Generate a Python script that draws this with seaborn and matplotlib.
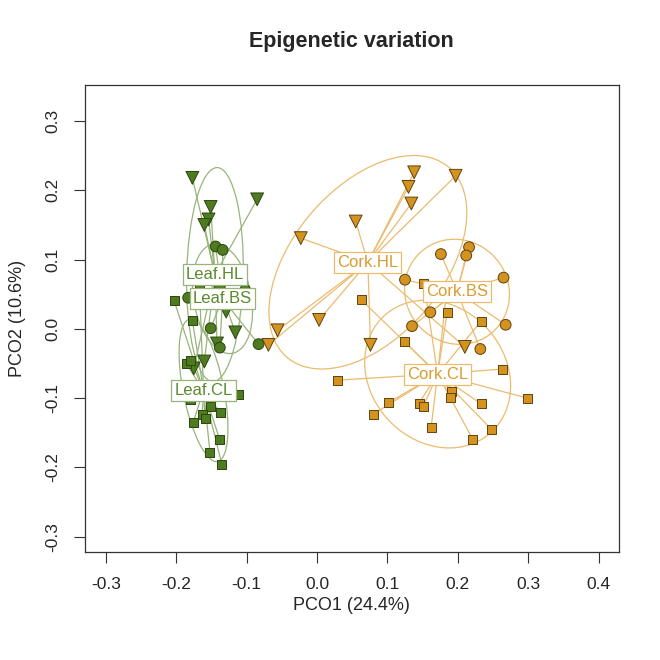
import numpy as np
import pandas as pd
import matplotlib
matplotlib.use("Agg")
import matplotlib.pyplot as plt
from matplotlib.patches import Ellipse
import seaborn as sns

# --- Data ---
leaf_hl_x = [-0.177, -0.085, -0.151, -0.154, -0.160, -0.129, -0.116, -0.142, -0.175, -0.160]
leaf_hl_y = [0.218, 0.187, 0.176, 0.158, 0.150, 0.025, -0.005, -0.021, -0.057, -0.047]

leaf_bs_x = [-0.144, -0.134, -0.138, -0.183, -0.102, -0.151, -0.138, -0.083]
leaf_bs_y = [0.119, 0.114, 0.062, 0.045, 0.056, 0.001, -0.027, -0.022]

leaf_cl_x = [-0.167, -0.203, -0.177, -0.186, -0.179, -0.195, -0.153, -0.139, -0.112,
             -0.179, -0.151, -0.137, -0.163, -0.159, -0.176, -0.138, -0.152, -0.135]
leaf_cl_y = [0.063, 0.041, 0.012, -0.050, -0.046, -0.092, -0.089, -0.085, -0.095,
             -0.102, -0.112, -0.121, -0.123, -0.129, -0.135, -0.160, -0.178, -0.196]

cork_hl_x = [0.138, 0.197, 0.130, 0.134, 0.055, -0.023, 0.003, -0.056, -0.069, 0.076, 0.210]
cork_hl_y = [0.226, 0.221, 0.205, 0.181, 0.155, 0.131, 0.013, -0.002, -0.023, -0.023, -0.026]

cork_bs_x = [0.176, 0.216, 0.212, 0.265, 0.125, 0.161, 0.268, 0.135, 0.232]
cork_bs_y = [0.108, 0.118, 0.106, 0.074, 0.071, 0.024, 0.006, 0.004, -0.029]

cork_cl_x = [0.152, 0.185, 0.063, 0.185, 0.233, 0.124, 0.263, 0.029, 0.299, 0.102,
             0.145, 0.151, 0.191, 0.190, 0.233, 0.080, 0.162, 0.248, 0.221]
cork_cl_y = [0.065, 0.063, 0.042, 0.024, 0.011, -0.018, -0.058, -0.074, -0.100, -0.106,
             -0.107, -0.112, -0.091, -0.099, -0.108, -0.123, -0.143, -0.145, -0.159]

groups = [
    ("Leaf", "HL", leaf_hl_x, leaf_hl_y),
    ("Leaf", "BS", leaf_bs_x, leaf_bs_y),
    ("Leaf", "CL", leaf_cl_x, leaf_cl_y),
    ("Cork", "HL", cork_hl_x, cork_hl_y),
    ("Cork", "BS", cork_bs_x, cork_bs_y),
    ("Cork", "CL", cork_cl_x, cork_cl_y),
]

rows = []
for tissue, treat, xs, ys in groups:
    for x, y in zip(xs, ys):
        rows.append({"tissue": tissue, "treat": treat, "PCO1": x, "PCO2": y,
                     "group": f"{tissue}.{treat}"})
df = pd.DataFrame(rows)

# colours / marker styles
fill = {"Leaf": "#4e7a20", "Cork": "#d4921e"}
edge = {"Leaf": "#2c4510", "Cork": "#5e4210"}
line = {"Leaf": "#98b47a", "Cork": "#ebbb6e"}
text_col = {"Leaf": "#5a8a2c", "Cork": "#d99c30"}
markers = {"HL": "v", "BS": "o", "CL": "s"}
msize = {"HL": 85, "BS": 60, "CL": 42}

sns.set_style("white")
plt.rcParams["font.family"] = ["Liberation Sans", "DejaVu Sans"]

fig = plt.figure(figsize=(6.6, 6.6), dpi=100)
ax = fig.add_axes([0.1288, 0.1636, 0.8091, 0.7076])

centroids = df.groupby("group")[["PCO1", "PCO2"]].mean()

# ellipses (1.5 sd) and spider lines to the group centroid
for tissue, treat, xs, ys in groups:
    g = f"{tissue}.{treat}"
    sub = df[df["group"] == g]
    cx, cy = centroids.loc[g]
    cov = np.cov(sub["PCO1"], sub["PCO2"], ddof=0)
    vals, vecs = np.linalg.eigh(cov)
    ang = np.degrees(np.arctan2(vecs[1, 1], vecs[0, 1]))
    ell = Ellipse((cx, cy), 2 * 1.5 * np.sqrt(vals[1]), 2 * 1.5 * np.sqrt(vals[0]),
                  angle=ang, fill=False, ec=line[tissue], lw=0.9, zorder=1)
    ax.add_patch(ell)
    for x, y in zip(sub["PCO1"], sub["PCO2"]):
        ax.plot([cx, x], [cy, y], color=line[tissue], lw=0.9, zorder=2)

# points
for tissue in ["Leaf", "Cork"]:
    sns.scatterplot(data=df[df["tissue"] == tissue], x="PCO1", y="PCO2",
                    style="treat", markers=markers, size="treat", sizes=msize,
                    color=fill[tissue], edgecolor=edge[tissue], linewidth=0.7,
                    legend=False, ax=ax, zorder=3)

# group labels at centroids
for g, (cx, cy) in centroids.iterrows():
    tissue = g.split(".")[0]
    ax.text(cx, cy, g, color=text_col[tissue], fontsize=12, ha="center", va="center",
            zorder=5,
            bbox=dict(boxstyle="square,pad=0.18", fc="white", ec=line[tissue], lw=0.9))

xt = np.arange(-0.3, 0.41, 0.1)
yt = np.arange(-0.3, 0.31, 0.1)
ax.set_xlim(-0.3295, 0.429)
ax.set_ylim(-0.322, 0.352)
ax.set_xticks(xt)
ax.set_yticks(yt)
ax.set_xticklabels([f"{v:.1f}" for v in xt])
ax.set_yticklabels([f"{v:.1f}" for v in yt], rotation=90, va="center")
ax.tick_params(axis="both", direction="out", length=8, width=0.8, color="#333333",
               labelsize=12.5, pad=10, bottom=True, left=True)
for sp in ax.spines.values():
    sp.set_color("#333333")
    sp.set_linewidth(0.9)

ax.set_xlabel("")
ax.set_ylabel("")
fig.text(0.532, 1 - 605 / 660, "PCO1 (24.4%)", ha="center", va="center", fontsize=13)
fig.text(18 / 660, 1 - 318 / 660, "PCO2 (10.6%)", ha="center", va="center",
         rotation=90, fontsize=13)
fig.text(0.532, 1 - 42 / 660, "Epigenetic variation", ha="center", va="center",
         fontsize=15.5, fontweight="bold")

fig.savefig("out.png", dpi=100)
